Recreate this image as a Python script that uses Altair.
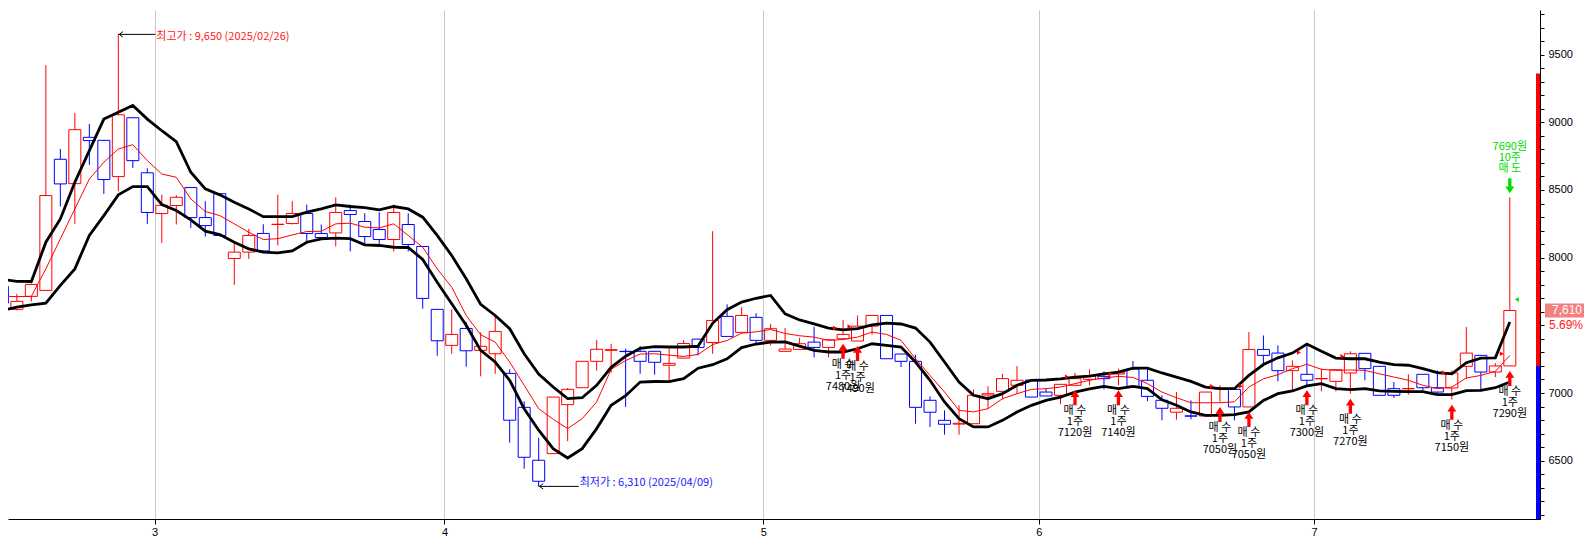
import altair as alt
import pandas as pd
import numpy as np

# ---------------- data ----------------
opens = [7787, 7618, 7714, 7758, 8727, 8547, 8889, 8867, 8599, 9034,
         8627, 8326, 8385, 8518, 8296, 8473, 7994, 8041, 8179, 8245,
         8252, 8326, 8179, 8183, 8348, 8267, 8208, 8134, 8245, 8083,
         7618, 7352, 7477, 7315, 7290, 7145, 6894, 6503, 6552, 6914,
         7039, 7234, 7315, 7308, 7308, 7308, 7205, 7258, 7398, 7373,
         7566, 7448, 7559, 7389, 7308, 7322, 7376, 7337, 7401, 7384,
         7494, 7573, 7288, 7234, 6946, 6798, 6770, 6773, 6985, 7012,
         7057, 7096, 7007, 6983, 7057, 7101, 7123, 7140, 7177, 7094,
         6946, 6858, 6831, 6830, 7030, 7027, 6897, 7322, 7295, 7165,
         7138, 7105, 7086, 7148, 7293, 7197, 7032, 7031, 7138, 7039,
         7037, 7197, 7278, 7155, 7200]
highs = [7800, 7733, 7810, 9423, 8803, 9069, 8988, 8867, 9650, 9034,
         8660, 8466, 8461, 8518, 8417, 8473, 8114, 8212, 8247, 8466,
         8417, 8392, 8245, 8446, 8392, 8328, 8336, 8392, 8328, 8083,
         7618, 7618, 7526, 7448, 7568, 7175, 6939, 6668, 6970, 7037,
         7234, 7391, 7364, 7327, 7347, 7308, 7327, 7391, 7398, 8195,
         7655, 7635, 7590, 7511, 7480, 7408, 7489, 7393, 7539, 7573,
         7573, 7573, 7288, 7283, 6975, 6872, 6909, 7027, 7049, 7142,
         7199, 7096, 7032, 7064, 7148, 7175, 7160, 7180, 7236, 7180,
         6983, 7007, 6946, 7007, 7057, 7027, 7450, 7425, 7352, 7241,
         7364, 7180, 7172, 7308, 7293, 7197, 7081, 7138, 7138, 7167,
         7167, 7487, 7278, 7221, 8446]
lows = [7640, 7610, 7677, 7758, 8378, 8250, 8685, 8471, 8491, 8663,
        8250, 8109, 8245, 8220, 8156, 8156, 7799, 7991, 8050, 8090,
        8245, 8120, 8131, 8083, 8046, 8097, 8083, 8046, 8046, 7622,
        7275, 7290, 7194, 7123, 7142, 6633, 6441, 6310, 6552, 6644,
        7039, 7165, 7150, 6897, 7142, 7135, 7086, 7258, 7278, 7290,
        7418, 7448, 7360, 7352, 7308, 7322, 7263, 7263, 7401, 7384,
        7430, 7253, 7192, 6773, 6749, 6692, 6692, 6773, 6884, 6953,
        6995, 6970, 6978, 6917, 7057, 7057, 7027, 7057, 7049, 6939,
        6798, 6803, 6805, 6830, 6934, 6798, 6897, 7197, 7086, 7007,
        7057, 7012, 7012, 6995, 7094, 6983, 6963, 6988, 7020, 6995,
        6951, 7106, 7012, 7118, 7200]
closes = [7664, 7677, 7802, 8459, 8545, 8946, 8865, 8577, 9056, 8717,
          8334, 8387, 8446, 8296, 8237, 8164, 8041, 8164, 8050, 8247,
          8326, 8179, 8149, 8334, 8319, 8156, 8134, 8334, 8097, 7699,
          7386, 7433, 7312, 7345, 7455, 6799, 6525, 6348, 6970, 7027,
          7234, 7323, 7320, 7306, 7234, 7227, 7219, 7366, 7337, 7536,
          7418, 7573, 7389, 7475, 7325, 7364, 7337, 7393, 7433, 7494,
          7573, 7253, 7234, 6894, 6858, 6769, 6776, 6983, 6995, 7106,
          7094, 6970, 6978, 7064, 7106, 7123, 7106, 7150, 7049, 6975,
          6887, 6887, 6829, 7007, 7034, 6897, 7322, 7278, 7165, 7197,
          7094, 7107, 7172, 7290, 7180, 6983, 6983, 7033, 7039, 7007,
          7148, 7295, 7155, 7200, 7610]
upper = [7840, 7825, 7824, 8114, 8286, 8557, 8791, 9024, 9074, 9125,
         9024, 8938, 8857, 8631, 8508, 8464, 8410, 8360, 8303, 8303,
         8303, 8336, 8360, 8390, 8378, 8370, 8353, 8378, 8360, 8299,
         8164, 8016, 7844, 7655, 7573, 7475, 7290, 7140, 7044, 6958,
         6965, 7057, 7190, 7272, 7330, 7343, 7340, 7340, 7347, 7515,
         7615, 7672, 7700, 7721, 7585, 7540, 7511, 7480, 7467, 7475,
         7504, 7517, 7510, 7480, 7376, 7229, 7081, 6983, 6958, 6995,
         7057, 7094, 7096, 7105, 7118, 7125, 7142, 7155, 7184, 7184,
         7148, 7118, 7086, 7044, 7032, 7032, 7130, 7210, 7260, 7295,
         7362, 7308, 7258, 7253, 7253, 7229, 7209, 7205, 7180, 7150,
         7142, 7224, 7258, 7260, 7524]
lower = [7610, 7635, 7652, 7664, 7795, 7917, 8164, 8311, 8464, 8525,
         8525, 8392, 8348, 8279, 8196, 8171, 8114, 8065, 8041, 8036,
         8050, 8114, 8139, 8144, 8140, 8095, 8090, 8077, 8075, 7987,
         7819, 7659, 7500, 7315, 7229, 7094, 6884, 6725, 6589, 6520,
         6589, 6737, 6909, 6980, 7081, 7085, 7084, 7106, 7183, 7209,
         7253, 7336, 7362, 7376, 7378, 7347, 7315, 7303, 7303, 7327,
         7364, 7352, 7339, 7229, 7094, 6934, 6810, 6749, 6749, 6798,
         6860, 6909, 6946, 6970, 7007, 7030, 7049, 7032, 7049, 7032,
         6950, 6910, 6860, 6835, 6835, 6840, 6860, 6945, 6995, 7015,
         7052, 7069, 7032, 7025, 7032, 7015, 7012, 7010, 7010, 6988,
         6988, 7017, 7020, 7039, 7081]
ma = [7716, 7712, 7714, 7917, 8139, 8360, 8581, 8705, 8803, 8835,
      8717, 8618, 8594, 8434, 8341, 8311, 8250, 8188, 8134, 8140,
      8168, 8193, 8195, 8250, 8255, 8225, 8220, 8250, 8164, 8077,
      7917, 7782, 7573, 7430, 7376, 7229, 7057, 6884, 6806, 6737,
      6810, 6934, 7175, 7240, 7288, 7290, 7280, 7270, 7285, 7358,
      7388, 7442, 7452, 7469, 7440, 7423, 7413, 7389, 7395, 7413,
      7450, 7433, 7389, 7253, 7130, 7007, 6872, 6860, 6884, 6958,
      6995, 7027, 7032, 7044, 7069, 7094, 7111, 7123, 7115, 7069,
      7007, 6965, 6928, 6928, 6928, 6935, 7044, 7105, 7135, 7180,
      7212, 7175, 7167, 7170, 7167, 7142, 7118, 7094, 7057, 7032,
      7044, 7111, 7130, 7160, 7278]

month_start_idx = [11, 31, 53, 72, 91]
month_labels = ["3", "4", "5", "6", "7"]

buy_idx = [58, 59, 74, 77, 84, 86, 90, 93, 100, 104]
buy_price = [7480, 7490, 7120, 7140, 7050, 7050, 7300, 7270, 7150, 7290]
buy_qty = [1, 1, 1, 1, 1, 1, 1, 1, 1, 1]
sell_idx = [104]
sell_price = [7690]
sell_qty = [10]

high_idx, high_value, high_date = 8, 9650, "2025/02/26"
low_idx, low_value, low_date = 37, 6310, "2025/04/09"

# ---------------- layout / style ----------------
W, H = 1532, 509
X_DOMAIN = [0.7334, 105.737]
Y_DOMAIN = [6069, 9830]
PPU = H / (Y_DOMAIN[1] - Y_DOMAIN[0])  # pixels per price unit
RED, BLUE, GREEN = "#ff0000", "#0000ff", "#00dd00"
FONT = "Liberation Sans, Noto Sans CJK KR, sans-serif"
KFONT = "Noto Sans CJK KR, Liberation Sans, sans-serif"

n = len(closes)
df = pd.DataFrame({"idx": list(range(n)), "open": opens, "high": highs, "low": lows,
                   "close": closes, "upper": upper, "lower": lower, "ma": ma})
df["dir"] = np.where(df["close"] >= df["open"], "up", "down")

last_close = closes[-1]
prev_close = closes[-2]

xs = alt.Scale(domain=X_DOMAIN, nice=False, zero=False)
ys = alt.Scale(domain=Y_DOMAIN, nice=False, zero=False)
dir_scale = alt.Scale(domain=["up", "down"], range=[RED, BLUE])

bounds = [m - 0.5 for m in month_start_idx]
expr = "''"
for b, lab in reversed(list(zip(bounds, month_labels))):
    expr = f"datum.value == {b} ? '{lab}' : ({expr})"

x_axis = alt.Axis(values=bounds, labelExpr=expr, grid=True, gridColor="#c8c8c8",
                  gridWidth=1, tickColor="black", tickSize=5, domainColor="black",
                  labelColor="black", labelFont=FONT, labelFontSize=11, labelPadding=2,
                  labelFlush=False, labelOverlap=False, title=None, labelAngle=0)
# labels every 500; the one hidden behind the last-price box is left out
y_axis = alt.Axis(orient="right", values=list(range(6100, 9900, 100)),
                  labelExpr=(f"datum.value % 500 == 0 && abs(datum.value - {last_close}) > 150"
                             " ? '' + datum.value : ''"),
                  tickSize=4, tickColor="black", domainColor="black", labelColor="black",
                  labelFont=FONT, labelFontSize=11, labelPadding=4, grid=False,
                  labelOverlap=False, labelFlush=False, title=None)

X = alt.X("idx:Q", scale=xs, axis=x_axis)


def Y(field):
    return alt.Y(field, scale=ys, axis=y_axis)


base = alt.Chart(df)

wicks = base.mark_rule(strokeWidth=1, clip=True).encode(
    x=X, y=Y("low:Q"), y2="high:Q",
    color=alt.Color("dir:N", scale=dir_scale, legend=None),
)
bodies = base.mark_bar(size=12, fill="white", strokeWidth=1, clip=True, orient="vertical").encode(
    x=X, y=Y("open:Q"), y2="close:Q",
    stroke=alt.Stroke("dir:N", scale=dir_scale, legend=None),
)
ma_line = base.mark_line(color=RED, strokeWidth=1, clip=True).encode(x=X, y=Y("ma:Q"))
up_line = base.mark_line(color="black", strokeWidth=2.8, clip=True).encode(x=X, y=Y("upper:Q"))
lo_line = base.mark_line(color="black", strokeWidth=2.8, clip=True).encode(x=X, y=Y("lower:Q"))

# price-limit bar on the right axis
lim = pd.DataFrame({"y": [prev_close, Y_DOMAIN[0]], "y2": [prev_close * 1.3, prev_close],
                    "dir": ["up", "down"]})
lim_bar = alt.Chart(lim).mark_rect(clip=True).encode(
    x=alt.value(W - 4), x2=alt.value(W),
    y=Y("y:Q"), y2="y2:Q",
    color=alt.Color("dir:N", scale=dir_scale, legend=None),
)

# trades
buys = pd.DataFrame({"idx": buy_idx, "price": buy_price, "qty": buy_qty})
buys["low"] = [lows[i] for i in buy_idx]
buys["t1"] = "매 수"
buys["t2"] = [f"{q}주" for q in buy_qty]
buys["t3"] = [f"{p}원" for p in buy_price]
sells = pd.DataFrame({"idx": sell_idx, "price": sell_price, "qty": sell_qty})
sells["high"] = [highs[i] for i in sell_idx]
sells["t1"] = "매 도"
sells["t2"] = [f"{q}주" for q in sell_qty]
sells["t3"] = [f"{p}원" for p in sell_price]

ARROW_UP = "M0,0L0.6,0.9L0.22,0.9L0.22,2L-0.22,2L-0.22,0.9L-0.6,0.9Z"
ARROW_DN = "M0,0L0.6,-0.9L0.22,-0.9L0.22,-2L-0.22,-2L-0.22,-0.9L-0.6,-0.9Z"

bchart = alt.Chart(buys)
buy_arrow = bchart.mark_point(shape=ARROW_UP, size=225, filled=True, color=RED,
                              opacity=1, strokeWidth=0, yOffset=5).encode(x=X, y=Y("low:Q"))
buy_tri = bchart.mark_point(shape="triangle-right", size=22, filled=True, color=RED,
                            opacity=1, xOffset=-8).encode(x=X, y=Y("price:Q"))
buy_txt = [bchart.mark_text(font=KFONT, fontSize=11, color="black", align="center",
                            baseline="middle", yOffset=off).encode(
    x=X, y=Y("low:Q"), text=f"{col}:N")
    for col, off in (("t1", 26), ("t2", 37), ("t3", 48))]

schart = alt.Chart(sells)
sell_arrow = schart.mark_point(shape=ARROW_DN, size=225, filled=True, color=GREEN,
                               opacity=1, strokeWidth=0, yOffset=-4).encode(x=X, y=Y("high:Q"))
sell_tri = schart.mark_point(shape="triangle-left", size=22, filled=True, color=GREEN,
                             opacity=1, xOffset=7).encode(x=X, y=Y("price:Q"))
sell_txt = [schart.mark_text(font=KFONT, fontSize=11, color=GREEN, align="center",
                             baseline="middle", yOffset=off).encode(
    x=X, y=Y("high:Q"), text=f"{col}:N")
    for col, off in (("t1", -28), ("t2", -39), ("t3", -50))]

# highest / lowest annotations
ext = pd.DataFrame({
    "idx": [high_idx, low_idx],
    "value": [high_value, low_value],
    "label": [f"최고가 : {high_value:,} ({high_date})", f"최저가 : {low_value:,} ({low_date})"],
    "kind": ["hi", "lo"],
})
ext_hi = alt.Chart(ext[ext.kind == "hi"])
ext_lo = alt.Chart(ext[ext.kind == "lo"])
CHEV = "M1.3,-1L0,0L1.3,1"
ext_layers = []
for ch, length, dy, col in ((ext_hi, 37, 3, "#ff2020"), (ext_lo, 40, -3, "#2020ff")):
    ext_layers += [
        ch.mark_rule(color="black", strokeWidth=1, x2Offset=length).encode(
            x=X, x2="idx:Q", y=Y("value:Q")),
        ch.mark_point(shape=CHEV, size=30, filled=False, color="black", strokeWidth=1,
                      opacity=1, xOffset=1).encode(x=X, y=Y("value:Q")),
        ch.mark_text(font=KFONT, fontSize=11, color=col, align="left", baseline="middle",
                     dx=length + 1, dy=dy).encode(x=X, y=Y("value:Q"), text="label:N"),
    ]

# last price box on the axis
box = pd.DataFrame({
    "y": [last_close + 7 / PPU], "y2": [last_close - 7 / PPU], "v": [last_close],
    "t": [f"{last_close:,}"], "pct": [f"{(last_close / prev_close - 1) * 100:.2f}%"],
})
bx = alt.Chart(box)
box_rect = bx.mark_rect(color="#f47f7f").encode(
    x=alt.value(W + 5), x2=alt.value(W + 44), y=Y("y:Q"), y2="y2:Q")
box_txt = bx.mark_text(font=FONT, fontSize=12, color="white", align="center",
                       baseline="middle").encode(x=alt.value(W + 27), y=Y("v:Q"), text="t:N")
pct_txt = bx.mark_text(font=FONT, fontSize=12, color="#ff2020", align="center",
                       baseline="middle", yOffset=15).encode(
    x=alt.value(W + 26), y=Y("v:Q"), text="pct:N")

chart = alt.layer(
    wicks, bodies, ma_line, up_line, lo_line, lim_bar,
    buy_arrow, buy_tri, *buy_txt, sell_arrow, sell_tri, *sell_txt,
    *ext_layers, box_rect, box_txt, pct_txt,
).properties(width=W, height=H, padding=0, background="white").configure_view(stroke=None)

chart.save("out.html", embed_options={"renderer": "svg", "actions": False})
